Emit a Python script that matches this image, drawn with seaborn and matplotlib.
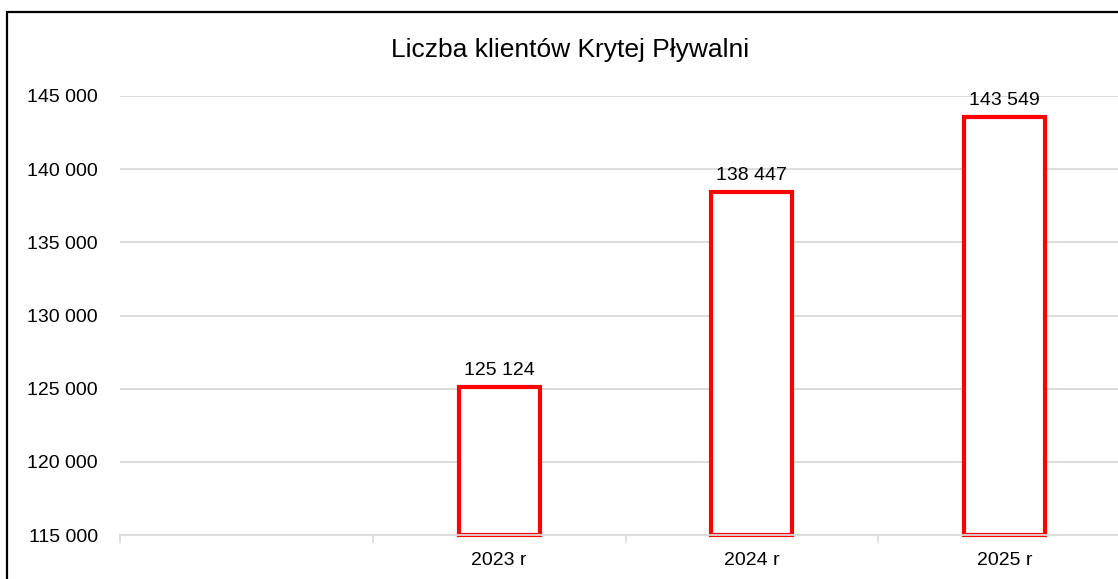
import matplotlib
matplotlib.use("Agg")
import matplotlib.pyplot as plt
import matplotlib.patches as patches
import seaborn as sns
import pandas as pd

# chart data
categories = ["", "2023 r", "2024 r", "2025 r"]
years = ["2023 r", "2024 r", "2025 r"]
clients = [125124, 138447, 143549]
y_ticks = [115000, 120000, 125000, 130000, 135000, 140000, 145000]
title = "Liczba klientów Krytej Pływalni"


def fmt(v):
    return f"{v:,.0f}".replace(",", " ")


sns.set_style("white")
plt.rcParams["font.family"] = ["Liberation Sans", "DejaVu Sans"]
plt.rcParams["text.color"] = "black"
plt.rcParams["xtick.labelcolor"] = "black"
plt.rcParams["ytick.labelcolor"] = "black"

df = pd.DataFrame({"rok": years, "klienci": clients})

fig = plt.figure(figsize=(11.18, 5.79), dpi=100)
ax = fig.add_axes([120 / 1118, 44 / 579, 1011 / 1118, 439 / 579])

sns.barplot(data=df, x="rok", y="klienci", order=categories, ax=ax,
            width=0.32, color="white", edgecolor="#ff0000", linewidth=3,
            errorbar=None)

# bars start at the axis floor so their bottom edge stays visible
y_min = y_ticks[0]
for p in ax.patches:
    top = p.get_y() + p.get_height()
    p.set_y(y_min)
    p.set_height(top - y_min)
    p.set_clip_on(False)

ax.set_ylim(y_ticks[0], y_ticks[-1])
ax.set_xlim(-0.5, len(categories) - 0.5)
ax.set_yticks(y_ticks)
ax.set_yticklabels([fmt(t) for t in y_ticks], fontsize=14)
ax.set_xticks(range(len(categories)))
ax.set_xticklabels(categories, fontsize=14)
ax.set_xticks([i - 0.5 for i in range(len(categories) + 1)], minor=True)
ax.tick_params(axis="x", which="major", length=0, pad=12)
ax.tick_params(axis="x", which="minor", bottom=True, length=6, width=1.2,
               color="#d9d9d9")
ax.tick_params(axis="y", length=0, pad=16)
ax.set_xlabel("")
ax.set_ylabel("")

ax.yaxis.grid(True, color="#d9d9d9", linewidth=1.3)
ax.set_axisbelow(True)
for side in ["left", "right", "top"]:
    ax.spines[side].set_visible(False)
ax.spines["bottom"].set_color("#d9d9d9")
ax.spines["bottom"].set_linewidth(1.3)

for cont in ax.containers:
    ax.bar_label(cont, labels=[fmt(v) for v in cont.datavalues],
                 padding=6, fontsize=14)

fig.text(570 / 1118, 1 - 50 / 579, title, ha="center", va="center",
         fontsize=19)

# outer chart frame (cropped on the right and bottom)
frame = patches.Rectangle((7 / 1118, -0.1), 1.2, 1 - 12 / 579 + 0.1,
                          transform=fig.transFigure, fill=False,
                          edgecolor="black", linewidth=1.6, clip_on=False)
fig.add_artist(frame)

fig.savefig("out.png", dpi=100)
